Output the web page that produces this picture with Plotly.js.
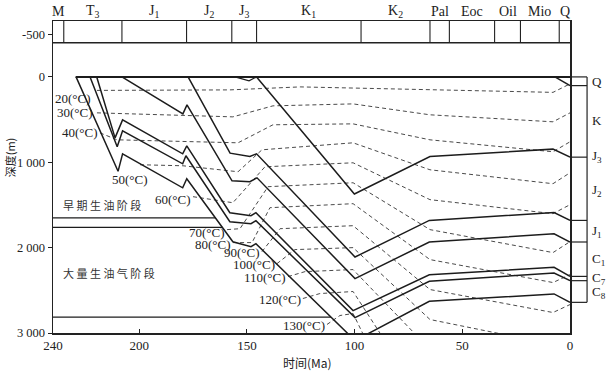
<!DOCTYPE html>
<html>
<head>
<meta charset="utf-8">
<script src="https://cdn.plot.ly/plotly-3.0.1.min.js"></script>
<style>body{margin:0;background:#fff}</style>
</head>
<body>
<div id="chart" style="width:607px;height:373px"></div>
<script>
// --- 1. burial history: age (Ma) / depth (m) ---
const surfaceAge = [229.5, 0];
const surfaceDepth = [0, 0];

const c8Age = [229.3, 209.8, 207.7, 179.8, 177.9, 156.5, 148.1, 145.8, 99.8, 65.3, 7.4, 0];
const c8Depth = [0, 1106, 901, 1299, 1193, 1931, 1989, 1954, 3089, 2629, 2542, 2641];
const c7bAge = [222.8, 210.2, 207.7, 179.8, 178.3, 157.9, 148.1, 145.8, 99.8, 65.3, 7.4, 0];
const c7bDepth = [0, 819, 632, 1018, 924, 1697, 1720, 1685, 2820, 2395, 2297, 2387];
const c7Age = [219.7, 211.2, 207.7, 179.8, 177.9, 157.9, 148.1, 145.8, 100.7, 65.3, 7.4, 0];
const c7Depth = [0, 714, 503, 901, 807, 1591, 1626, 1591, 2738, 2317, 2231, 2337];
const c1Age = [208.0, 179.7, 177.8, 156.9, 148.6, 145.3, 99.8, 65.3, 7.4, 0];
const c1Depth = [0, 433, 328, 1217, 1228, 1182, 2363, 1934, 1837, 1934];
const j1Age = [177.3, 157.8, 148.6, 145.5, 99.8, 65.3, 7.4, 0];
const j1Depth = [0, 893, 933, 901, 2110, 1681, 1588, 1681];
const kAge = [145.5, 100.1, 65.0, 7.9, 0];
const kDepth = [0, 1372, 933, 846, 940];
const j3Age = [155.5, 149, 145.5];
const j3Depth = [0, 45, 0];
const qAge = [7.0, 0];
const qDepth = [0, 102];

// isotherms (dashed)
const iso20Age = [219.6, 157.9, 125.3, 100.7, 65, 7.9, 0];
const iso20Depth = [158, 152, 117, 129, 152, 181, 82];
const iso30Age = [219.6, 156.5, 137.9, 100.7, 65, 7.9, 0];
const iso30Depth = [421, 468, 339, 316, 444, 526, 421];
const iso40Age = [218.2, 210.3, 154.1, 137.9, 100.7, 65, 7.9, 0];
const iso40Depth = [655, 737, 772, 561, 550, 737, 877, 760];
const iso50Age = [199.6, 179.7, 154.1, 143.0, 100.7, 65, 7.9, 0];
const iso50Depth = [1029, 1041, 1111, 854, 772, 1088, 1251, 1123];
const iso60Age = [175.0, 156.5, 141.6, 100.7, 65, 7.9, 0];
const iso60Depth = [1403, 1474, 1053, 1006, 1438, 1602, 1497];
const iso70Age = [159.2, 153.2, 140.2, 100.7, 65, 7.9, 0];
const iso70Depth = [1789, 1778, 1286, 1240, 1789, 2058, 1930];
const iso80Age = [156.4, 147.6, 139.3, 100.7, 65, 7.9, 0];
const iso80Depth = [1941, 1941, 1532, 1485, 2140, 2409, 2316];
const iso90Age = [143.0, 134.6, 100.7, 65, 7.9, 0];
const iso90Depth = [2047, 1778, 1743, 2491, 2760, 2667];
const iso100Age = [136.0, 127.7, 100.7, 65, 7.9, 0];
const iso100Depth = [2187, 2023, 2000, 2842, 3134, 3041];
const iso110Age = [130.9, 123.0, 100.7, 65];
const iso110Depth = [2339, 2281, 2257, 3193];
const iso120Age = [124.0, 116.1, 100.7, 74.3];
const iso120Depth = [2596, 2538, 2514, 3544];
const iso130Age = [112.8, 106.8, 100.7, 83.6];
const iso130Depth = [2900, 2795, 2772, 3661];

const tempLabels = [20, 30, 40, 50, 60, 70, 80, 90, 100, 110, 120, 130];
const tempLabelAge = [221.4, 220.5, 218.2, 195.0, 175.0, 159.2, 156.4, 143.0, 136.0, 130.9, 124.0, 112.8];
const tempLabelDepth = [249, 413, 651, 1205, 1438, 1828, 1965, 2055, 2199, 2354, 2608, 2912];

// oil window limits (horizontal lines, end where they meet the deepest curve)
const windowDepth = [1652, 1762, 2813];
const windowEndAge = [164.6, 161.4, 111.0];
const stageNames = ['早期生油阶段', '大量生油气阶段'];
const stageAge = [217.3, 213.8];
const stageDepth = [1497, 2292];

// geological time strip
const periodBounds = [240, 235, 208, 178, 157, 145.5, 97, 65, 56, 35, 23, 5, 0];
const periodNames = ['M', 'T<sub>3</sub>', 'J<sub>1</sub>', 'J<sub>2</sub>', 'J<sub>3</sub>', 'K<sub>1</sub>',
                     'K<sub>2</sub>', 'Pal', 'Eoc', 'Oil', 'Mio', 'Q'];

// present-day strata column on the right
const strataDepth = [0, 102, 940, 1681, 1934, 2337, 2387, 2641];
const strataNames = ['Q', 'K', 'J<sub>3</sub>', 'J<sub>2</sub>', 'J<sub>1</sub>', 'C<sub>1</sub>', 'C<sub>7</sub>', 'C<sub>8</sub>'];
const strataLabelDepth = [58, 515, 936, 1333, 1813, 2140, 2362, 2530];

// --- 2. traces ---
const serif = 'Liberation Serif, Times New Roman, serif';
const cjk = 'Noto Sans CJK SC, sans-serif';

function solid(x, y, w) {
  return {x: x, y: y, type: 'scatter', mode: 'lines', hoverinfo: 'skip', showlegend: false,
          line: {color: '#1c1c1c', width: w || 1.5}};
}
function dashed(x, y) {
  return {x: x, y: y, type: 'scatter', mode: 'lines', hoverinfo: 'skip', showlegend: false,
          line: {color: '#4a4a4a', width: 1, dash: '4px,3px'}};
}

const traces = [
  dashed(iso20Age, iso20Depth), dashed(iso30Age, iso30Depth), dashed(iso40Age, iso40Depth),
  dashed(iso50Age, iso50Depth), dashed(iso60Age, iso60Depth), dashed(iso70Age, iso70Depth),
  dashed(iso80Age, iso80Depth), dashed(iso90Age, iso90Depth), dashed(iso100Age, iso100Depth),
  dashed(iso110Age, iso110Depth), dashed(iso120Age, iso120Depth), dashed(iso130Age, iso130Depth),
  solid(surfaceAge, surfaceDepth, 2),
  solid(c8Age, c8Depth), solid(c7bAge, c7bDepth), solid(c7Age, c7Depth),
  solid(c1Age, c1Depth), solid(j1Age, j1Depth), solid(kAge, kDepth),
  solid(j3Age, j3Depth, 1.2), solid(qAge, qDepth)
];
windowDepth.forEach((d, i) => traces.push(solid([240, windowEndAge[i]], [d, d], 1.2)));

// --- 3. shapes and labels ---
const shapes = [];
// time strip: bottom line and dividers
shapes.push({type: 'line', xref: 'paper', x0: 0, x1: 1, yref: 'y', y0: -400, y1: -400,
             line: {color: '#222', width: 1.3}});
periodBounds.slice(1, -1).forEach(a => shapes.push({type: 'line', xref: 'x', x0: a, x1: a,
             yref: 'y', y0: -655, y1: -400, line: {color: '#222', width: 1.1}}));

// strata column
const colRight = 1.033;
strataDepth.forEach(d => shapes.push({type: 'line', xref: 'paper', x0: 1, x1: colRight,
             yref: 'y', y0: d, y1: d, line: {color: '#222', width: 1.2}}));
shapes.push({type: 'line', xref: 'paper', x0: colRight, x1: colRight, yref: 'y',
             y0: strataDepth[0], y1: strataDepth[strataDepth.length - 1], line: {color: '#222', width: 1.2}});

const annotations = [];
periodNames.forEach((n, i) => annotations.push({
  text: n, xref: 'x', x: (periodBounds[i] + periodBounds[i + 1]) / 2, yref: 'paper', y: 1.029,
  showarrow: false, xanchor: 'center', yanchor: 'middle', font: {family: serif, size: 14, color: '#222'}
}));
strataNames.forEach((n, i) => annotations.push({
  text: n, xref: 'paper', x: 1.0387, yref: 'y', y: strataLabelDepth[i],
  showarrow: false, xanchor: 'left', yanchor: 'middle', font: {family: serif, size: 13, color: '#222'}
}));
tempLabels.forEach((t, i) => annotations.push({
  text: t + '(°C)', xref: 'x', x: tempLabelAge[i], yref: 'y', y: tempLabelDepth[i],
  showarrow: false, xanchor: 'right', yanchor: 'middle', font: {family: serif, size: 13, color: '#222'}
}));
stageNames.forEach((s, i) => annotations.push({
  text: s.split('').join(' '), xref: 'x', x: stageAge[i], yref: 'y', y: stageDepth[i],
  showarrow: false, xanchor: 'center', yanchor: 'middle', font: {family: cjk, size: 11, color: '#333'}
}));
annotations.push({text: '深度(m)', xref: 'paper', x: -0.084, yref: 'y', y: 947, textangle: -90,
  showarrow: false, xanchor: 'center', yanchor: 'middle', borderpad: 0,
  font: {family: cjk, size: 11, color: '#222'}});
annotations.push({text: '时间(Ma)', xref: 'paper', x: 0.493, yref: 'paper', y: -0.096,
  showarrow: false, xanchor: 'center', yanchor: 'middle', font: {family: cjk, size: 12, color: '#222'}});

const layout = {
  width: 607, height: 373,
  margin: {l: 53, r: 37, t: 21, b: 40},
  paper_bgcolor: '#fff', plot_bgcolor: '#fff',
  showlegend: false,
  xaxis: {
    range: [240, 0], showgrid: false, zeroline: false,
    tickvals: [240, 200, 150, 100, 50, 0], ticks: 'inside', ticklen: 4, tickcolor: '#222',
    showline: true, linecolor: '#222', linewidth: 1.5, mirror: true,
    tickfont: {family: serif, size: 13, color: '#222'}
  },
  yaxis: {
    range: [3000, -655], showgrid: false, zeroline: false,
    tickvals: [-500, 0, 1000, 2000, 3000], ticktext: ['-500', '0', '1 000', '2 000', '3 000'],
    ticks: 'outside', ticklen: 4, tickcolor: '#222', ticklabelstandoff: 0,
    showline: true, linecolor: '#222', linewidth: 1.5, mirror: true,
    tickfont: {family: serif, size: 12.5, color: '#222'}
  },
  shapes: shapes,
  annotations: annotations
};

Plotly.newPlot('chart', traces, layout, {displayModeBar: false, staticPlot: true});
</script>
</body>
</html>
